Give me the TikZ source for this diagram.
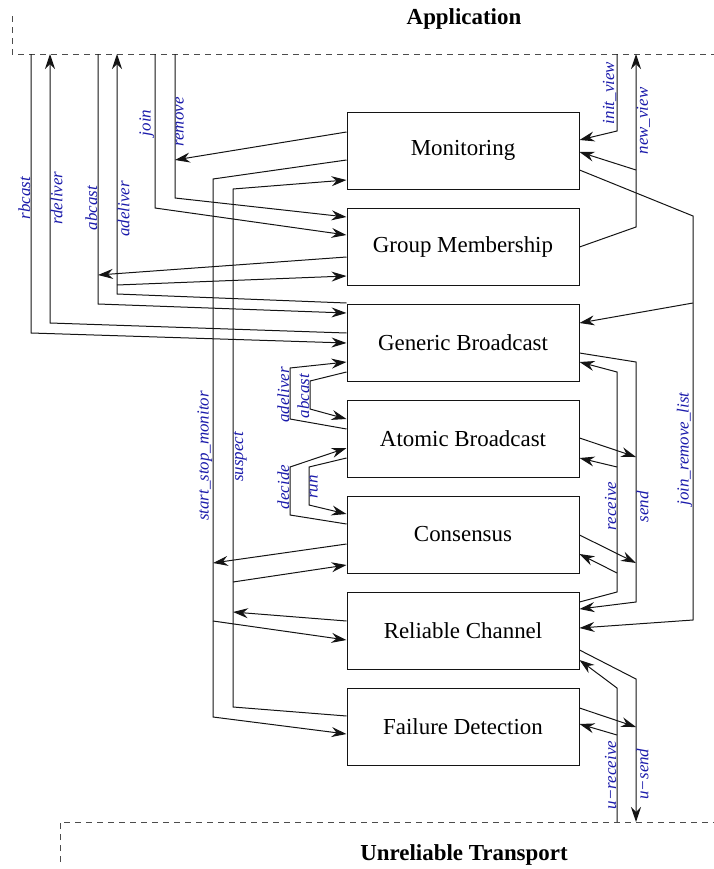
\documentclass[tikz,border=0pt]{standalone}
\usepackage{fontspec}
\setmainfont{Liberation Serif}
\usetikzlibrary{arrows.meta}
\definecolor{lblblue}{RGB}{26,26,170}
\definecolor{linegray}{RGB}{20,20,20}
\tikzset{
  box/.style={draw=linegray, line width=1bp, minimum width=232bp, minimum height=77bp, inner sep=0pt, font=\fontsize{23}{26}\selectfont},
  conn/.style={draw=linegray, line width=1bp},
  arr/.style={conn, -{Stealth[length=15bp,width=10bp,inset=5bp]}},
  frame/.style={draw=black!70, line width=1bp, dash pattern=on 6bp off 5bp},
  title/.style={font=\fontsize{23}{26}\selectfont\bfseries},
  lblL/.style={rotate=90, anchor=south, inner sep=0.5bp, text=lblblue, font=\fontsize{17}{20}\selectfont\itshape},
  lblR/.style={rotate=90, anchor=north, inner sep=0.5bp, text=lblblue, font=\fontsize{17}{20}\selectfont\itshape},
}
\begin{document}
\begin{tikzpicture}[x=1bp,y=-1bp]
\path[use as bounding box] (0,0) rectangle (714,869);

% frames
\draw[frame] (12,16) -- (12,54) -- (714,54);
\draw[frame] (60,862) -- (60,822) -- (714,822);
\node[title] (app) at (464,19) {Application};
\node[title] (ut) at (464,855) {Unreliable Transport};

% boxes
\node[box] (mon)  at (463,150.5) {Monitoring};
\node[box] (gm)   at (463,246.5) {Group Membership};
\node[box] (gb)   at (463,342.5) {Generic Broadcast};
\node[box] (ab)   at (463,438.5) {Atomic Broadcast};
\node[box] (cons) at (463,534.5) {Consensus};
\node[box] (rc)   at (463,630.5) {Reliable Channel};
\node[box] (fd)   at (463,726.5) {Failure Detection};

% coordinates at the application / transport lines
\coordinate (trb) at (31,54);
\coordinate (trd) at (50,54);
\coordinate (tab) at (98,54);
\coordinate (tad) at (117,54);
\coordinate (tjo) at (155,54);
\coordinate (tre) at (175,54);
\coordinate (tiv) at (617,54);
\coordinate (tnv) at (636,54);
\coordinate (bur) at (617,822);
\coordinate (bus) at (636,822);

% left side: application interface
\draw[arr] (trb) -- (31,333) -- (gb.west |- 0,343);
\draw[arr] (gb.west |- 0,333) -- (50,323) -- (trd);
\draw[arr] (tab) -- (98,304) -- (gb.west |- 0,313);
\draw[arr] (gm.west |- 0,257) -- (98,275);
\draw[arr] (gb.west |- 0,303) -- (117,294) -- (tad);
\draw[arr] (117,285) -- (gm.west |- 0,276);
\draw[arr] (tjo) -- (155,208) -- (gm.west |- 0,235);
\draw[arr] (tre) -- (175,198) -- (gm.west |- 0,217);
\draw[arr] (mon.west |- 0,132) -- (175,160);

% start_stop_monitor
\draw[arr] (mon.west |- 0,160) -- (213,179) -- (213,717) -- (fd.west |- 0,734);
\draw[arr] (213,621) -- (rc.west |- 0,640);
\draw[arr] (cons.west |- 0,544) -- (213,563);
% suspect
\draw[arr] (fd.west |- 0,716) -- (233,707) -- (233,189) -- (mon.west |- 0,180);
\draw[arr] (233,582) -- (cons.west |- 0,565);
\draw[arr] (rc.west |- 0,621) -- (233,612);

% middle
\draw[arr] (ab.west |- 0,429) -- (290,419) -- (290,368) -- (gb.west |- 0,362);
\draw[arr] (gb.west |- 0,372) -- (310,381) -- (310,409) -- (ab.west |- 0,419);
\draw[arr] (cons.west |- 0,524) -- (290,515) -- (290,467) -- (ab.west |- 0,448);
\draw[arr] (ab.west |- 0,458) -- (309,467) -- (309,505) -- (cons.west |- 0,514);

% right side
\draw[arr] (tiv) -- (617,131) -- (mon.east |- 0,140);
\draw[arr] (gm.east |- 0,247) -- (636,227) -- (tnv);
\draw[arr] (636,170) -- (mon.east |- 0,152);
\draw[arr] (mon.east |- 0,170) -- (693,216) -- (693,620) -- (rc.east |- 0,628);
\draw[arr] (693,303) -- (gb.east |- 0,323);

% send / receive
\draw[arr] (gb.east |- 0,353) -- (636,362) -- (636,602) -- (rc.east |- 0,609);
\draw[arr] (ab.east |- 0,438) -- (636,457);
\draw[arr] (cons.east |- 0,535) -- (636,563);
\draw[arr] (rc.east |- 0,602) -- (617,592) -- (617,372) -- (gb.east |- 0,362);
\draw[arr] (617,467) -- (ab.east |- 0,458);
\draw[arr] (617,573) -- (cons.east |- 0,554);

% unreliable transport
\draw[arr] (rc.east |- 0,650) -- (636,679) -- (bus);
\draw[arr] (bur) -- (617,688) -- (rc.east |- 0,660);
\draw[arr] (fd.east |- 0,708) -- (636,727);
\draw[arr] (617,735) -- (fd.east |- 0,724);

% labels
\node[lblL] (l1) at (31,198) {rbcast};
\node[lblR] (l2) at (50,198) {rdeliver};
\node[lblL] (l3) at (98,208) {abcast};
\node[lblR] (l4) at (117,209) {adeliver};
\node[lblL] (l5) at (155,123) {join};
\node[lblR] (l6) at (175,122) {remove};
\node[lblL] (l7) at (213,456) {start\_stop\_monitor};
\node[lblR] (l8) at (233,457) {suspect};
\node[lblL] (l9) at (290,395) {adeliver};
\node[lblL] (l10) at (310,396) {abcast};
\node[lblL] (l11) at (290,487) {decide};
\node[lblR] (l12) at (309,487) {run};
\node[lblL] (l13) at (617,93) {init\_view};
\node[lblR] (l14) at (636,121) {new\_view};
\node[lblL] (l15) at (693,449) {join\_remove\_list};
\node[lblL] (l16) at (617,506) {receive};
\node[lblR] (l17) at (636,507) {send};
\node[lblL] (l18) at (617,775) {u−receive};
\node[lblR] (l19) at (636,774) {u−send};
\end{tikzpicture}
\end{document}
